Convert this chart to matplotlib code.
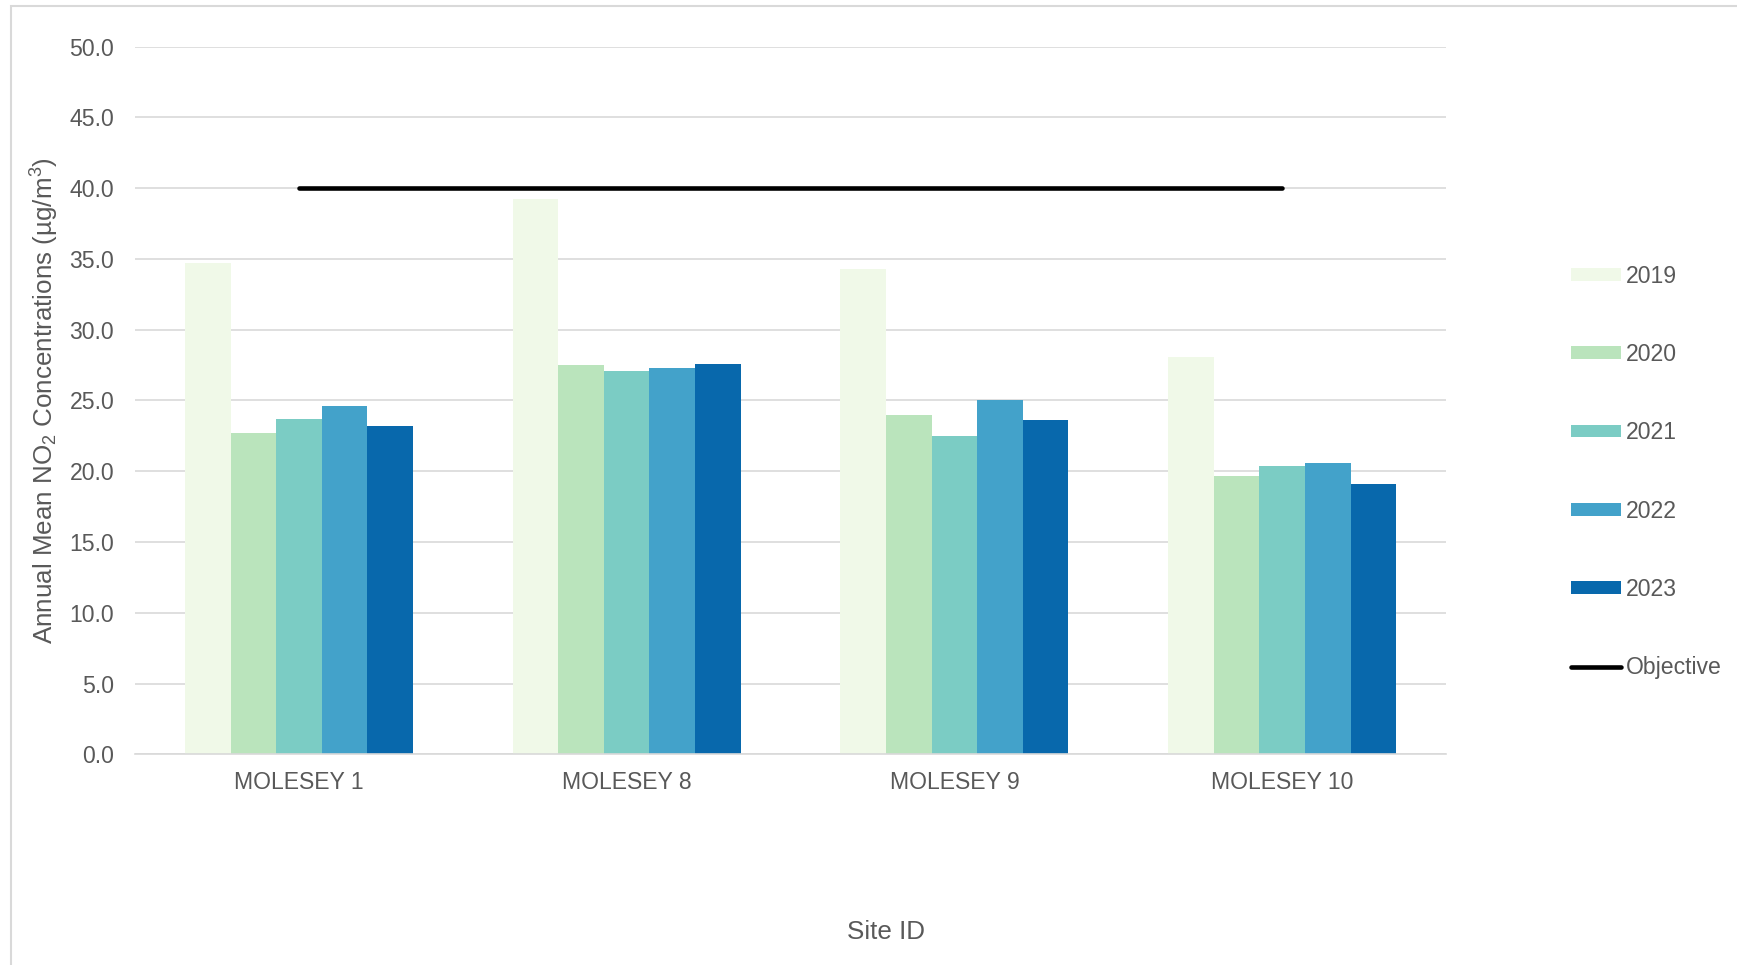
import numpy as np
import matplotlib.pyplot as plt
from matplotlib.patches import Rectangle

plt.rcParams['font.family'] = ['Liberation Sans', 'DejaVu Sans']
plt.rcParams['mathtext.fontset'] = 'custom'
plt.rcParams['mathtext.rm'] = 'Liberation Sans'
plt.rcParams['mathtext.it'] = 'Liberation Sans:italic'

#%% Data
sites = ['MOLESEY 1', 'MOLESEY 8', 'MOLESEY 9', 'MOLESEY 10']
years = ['2019', '2020', '2021', '2022', '2023']
v2019 = [34.7, 39.2, 34.3, 28.1]
v2020 = [22.7, 27.5, 24.0, 19.7]
v2021 = [23.7, 27.1, 22.5, 20.4]
v2022 = [24.6, 27.3, 25.0, 20.6]
v2023 = [23.2, 27.6, 23.6, 19.1]
objective = [40.0, 40.0, 40.0, 40.0]

colors = ['#f0f9e8', '#bae4bc', '#7bccc4', '#43a2ca', '#0868ac']
txt = '#595959'
grid = '#d9d9d9'

#%% Plot
fig = plt.figure(figsize=(17.37, 9.65), dpi=100)
ax = fig.add_axes([0.0777, 0.2182, 0.7548, 0.7336])

x = np.arange(len(sites))
w = 0.139
handles = []
for i, (yr, vals) in enumerate(zip(years, [v2019, v2020, v2021, v2022, v2023])):
    b = ax.bar(x + (i - 2) * w, vals, width=w, color=colors[i], label=yr, zorder=2)
    handles.append(b)

ln, = ax.plot(x, objective, color='black', linewidth=3.3, solid_capstyle='round',
              label='Objective', zorder=3)
handles.append(ln)

ax.set_xlim(-0.5, 3.5)
ax.set_ylim(0, 50)
ax.set_yticks(np.arange(0, 50.1, 5))
ax.set_yticklabels(['%.1f' % t for t in np.arange(0, 50.1, 5)])
ax.set_xticks(x)
ax.set_xticklabels(sites)
ax.tick_params(axis='both', length=0, labelsize=16.6, labelcolor=txt)
ax.tick_params(axis='y', pad=15)
ax.tick_params(axis='x', pad=12)
ax.grid(axis='y', color=grid, linewidth=1.2, zorder=0)
ax.set_axisbelow(True)
for s in ['top', 'right', 'left']:
    ax.spines[s].set_visible(False)
ax.spines['bottom'].set_color(grid)
ax.spines['bottom'].set_linewidth(1.2)

ax.set_ylabel('Annual Mean NO$_2$ Concentrations (\u00b5g/m$^3$)', fontsize=18.7,
              color=txt, labelpad=6)
fig.text(0.51, 0.0345, 'Site ID', fontsize=18.7, color=txt, ha='center', va='center')

leg = fig.legend(handles=handles, labels=years + ['Objective'], loc='center left',
                 bbox_to_anchor=(0.9044, 0.511), frameon=False, fontsize=16.6,
                 labelcolor=txt, labelspacing=2.40, handlelength=2.16,
                 handleheight=0.48, handletextpad=0.22, borderpad=0, borderaxespad=0)

# chart area border (partly cropped in the reference)
fig.patches.append(Rectangle((11 / 1737, -0.2), 1.5, 1.2 - 5.5 / 965,
                             transform=fig.transFigure, fill=False,
                             edgecolor=grid, linewidth=1.5))

fig.savefig('out.png', dpi=100)
